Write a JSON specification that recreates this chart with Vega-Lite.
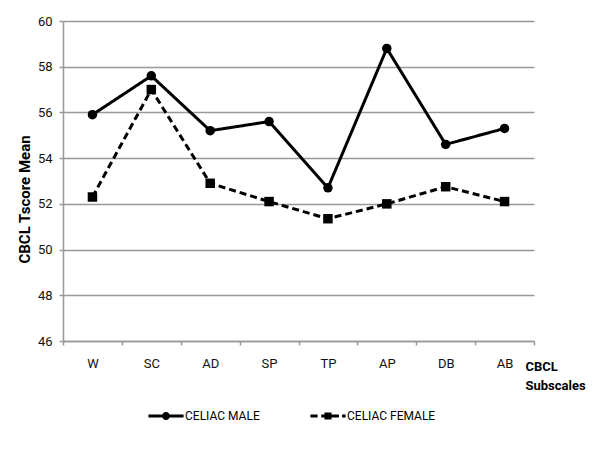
{
  "$schema": "https://vega.github.io/schema/vega-lite/v6.json",
  "autosize": {"type": "none"},
  "width": 471,
  "height": 320,
  "padding": {"left": 63, "top": 21, "right": 66, "bottom": 109},
  "background": "white",
  "config": {"font": "Roboto", "view": {"stroke": null}},
  "data": {
    "values": [
      {"sub": "W", "series": "CELIAC MALE", "value": 55.9},
      {"sub": "SC", "series": "CELIAC MALE", "value": 57.6},
      {"sub": "AD", "series": "CELIAC MALE", "value": 55.2},
      {"sub": "SP", "series": "CELIAC MALE", "value": 55.6},
      {"sub": "TP", "series": "CELIAC MALE", "value": 52.7},
      {"sub": "AP", "series": "CELIAC MALE", "value": 58.8},
      {"sub": "DB", "series": "CELIAC MALE", "value": 54.6},
      {"sub": "AB", "series": "CELIAC MALE", "value": 55.3},
      {"sub": "W", "series": "CELIAC FEMALE", "value": 52.3},
      {"sub": "SC", "series": "CELIAC FEMALE", "value": 57.0},
      {"sub": "AD", "series": "CELIAC FEMALE", "value": 52.9},
      {"sub": "SP", "series": "CELIAC FEMALE", "value": 52.1},
      {"sub": "TP", "series": "CELIAC FEMALE", "value": 51.35},
      {"sub": "AP", "series": "CELIAC FEMALE", "value": 52.0},
      {"sub": "DB", "series": "CELIAC FEMALE", "value": 52.75},
      {"sub": "AB", "series": "CELIAC FEMALE", "value": 52.1}
    ]
  },
  "encoding": {
    "x": {
      "field": "sub",
      "type": "nominal",
      "sort": ["W", "SC", "AD", "SP", "TP", "AP", "DB", "AB"],
      "scale": {"type": "band", "paddingInner": 0, "paddingOuter": 0},
      "axis": {
        "grid": false,
        "domainColor": "#999999",
        "domainWidth": 1.5,
        "tickColor": "#999999",
        "tickWidth": 1.5,
        "tickSize": 4,
        "tickBand": "extent",
        "labelAngle": 0,
        "labelPadding": 12,
        "labelFontSize": 13,
        "labelColor": "#111111",
        "title": ["CBCL", "Subscales"],
        "titleFontSize": 13,
        "titleFontWeight": "bold",
        "titleColor": "#000000",
        "titleAlign": "left",
        "titleBaseline": "top",
        "titleLineHeight": 19,
        "titleX": 462,
        "titleY": 19
      }
    },
    "y": {
      "field": "value",
      "type": "quantitative",
      "scale": {"domain": [46, 60], "nice": false, "zero": false},
      "axis": {
        "values": [46, 48, 50, 52, 54, 56, 58, 60],
        "grid": true,
        "gridColor": "#999999",
        "gridWidth": 1.5,
        "domainColor": "#999999",
        "domainWidth": 1.5,
        "tickColor": "#999999",
        "tickWidth": 1.5,
        "tickSize": 4,
        "labelPadding": 7,
        "labelFontSize": 13,
        "labelColor": "#111111",
        "title": "CBCL Tscore Mean",
        "titleFontSize": 15,
        "titleFontWeight": "bold",
        "titleColor": "#000000",
        "titleAngle": -90,
        "titleAlign": "center",
        "titleBaseline": "middle",
        "titleX": -39,
        "titleY": 178
      }
    }
  },
  "layer": [
    {
      "mark": {"type": "line", "strokeWidth": 3, "color": "black"},
      "encoding": {
        "strokeDash": {
          "field": "series",
          "type": "nominal",
          "scale": {"domain": ["CELIAC MALE", "CELIAC FEMALE"], "range": [[1, 0], [7, 4]]},
          "legend": null
        }
      }
    },
    {
      "mark": {"type": "point", "filled": true, "color": "black", "size": 90, "opacity": 1},
      "encoding": {
        "shape": {
          "field": "series",
          "type": "nominal",
          "scale": {"domain": ["CELIAC MALE", "CELIAC FEMALE"], "range": ["circle", "square"]},
          "legend": null
        }
      }
    },
    {
      "mark": {"type": "point", "filled": true, "color": "black", "size": 1024, "opacity": 0},
      "encoding": {
        "shape": {
          "field": "series",
          "type": "nominal",
          "scale": {
            "domain": ["CELIAC MALE", "CELIAC FEMALE"],
            "range": [
              "M-1.1,-0.09H-0.15V0.09H-1.1Z M0.15,-0.09H1.1V0.09H0.15Z M-0.25,0A0.25,0.25 0 1,1 0.25,0A0.25,0.25 0 1,1 -0.25,0Z",
              "M-1.1,-0.09H-0.65V0.09H-1.1Z M-0.42,-0.09H-0.2V0.09H-0.42Z M-0.22,-0.22H0.22V0.22H-0.22Z M0.2,-0.09H0.68V0.09H0.2Z M0.88,-0.09H1.1V0.09H0.88Z"
            ]
          },
          "legend": {
            "orient": "none",
            "legendX": 87,
            "legendY": 379,
            "direction": "horizontal",
            "columns": 2,
            "title": null,
            "padding": 0,
            "symbolSize": 1024,
            "symbolOpacity": 1,
            "symbolFillColor": "black",
            "symbolStrokeWidth": 0,
            "labelFontSize": 12,
            "labelColor": "#000000",
            "labelOffset": 3,
            "columnPadding": 50
          }
        }
      }
    }
  ],
  "resolve": {"scale": {"shape": "independent"}, "legend": {"shape": "independent"}}
}
